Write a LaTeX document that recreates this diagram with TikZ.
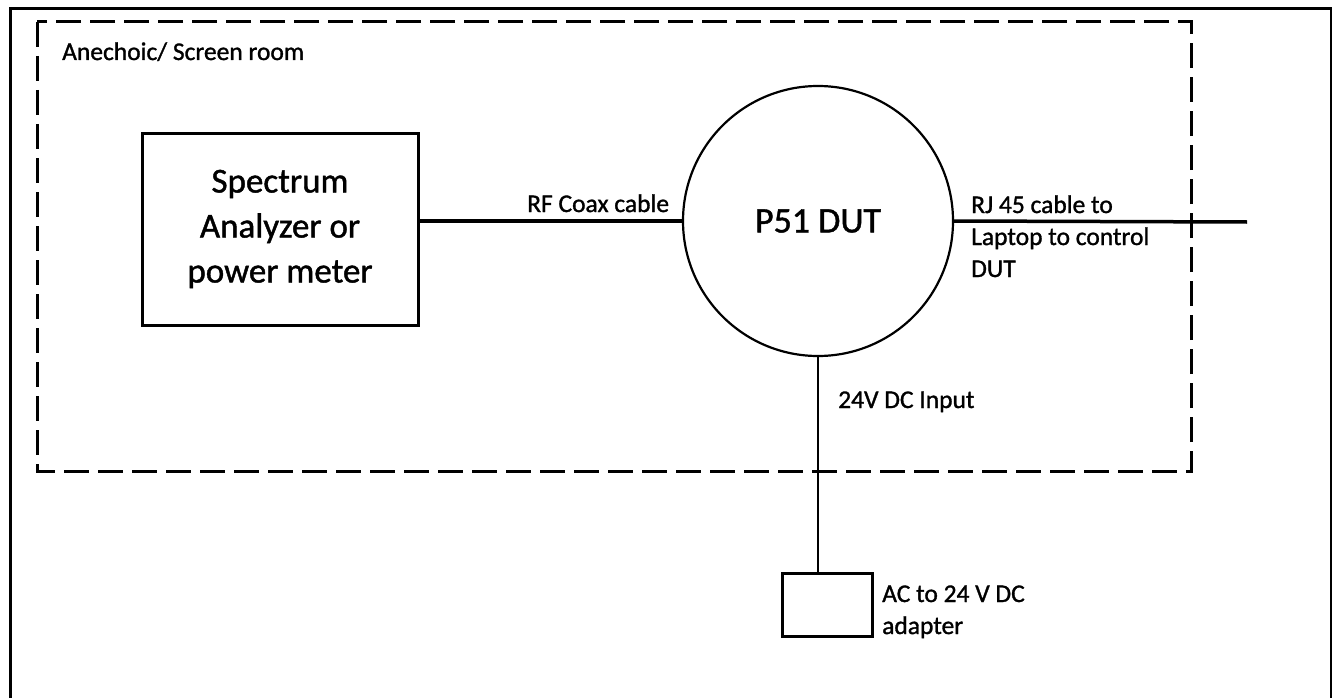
\documentclass[tikz,border=0pt]{standalone}
\usepackage{fontspec}
\setmainfont{Carlito}[FakeBold=1.2]
\begin{document}
\begin{tikzpicture}[x=1pt,y=-1pt,
  lbl/.style={inner sep=0pt,font=\fontsize{25.5}{32}\selectfont,align=left},
  boxstyle/.style={draw,line width=3pt,inner sep=0pt},
  cable/.style={line width=3.5pt},
  thin cable/.style={line width=2.4pt}]
\useasboundingbox (0,0) rectangle (1332,698);
% outer frame
\draw[line width=3pt] (10,698) -- (10,9) -- (1331,9) -- (1331,698);
% screen room
\draw[line width=3pt,dash pattern=on 25pt off 9pt] (37,22) rectangle (1191,471);
\node[lbl,anchor=base west] (room) at (62,60) {Anechoic/ Screen room};
% spectrum analyzer
\node[boxstyle,minimum width=276pt,minimum height=192pt,align=center,
      font=\fontsize{35}{45}\selectfont] (sa) at (280,229) {Spectrum\\Analyzer or\\power meter};
% DUT
\node[draw,circle,line width=2.2pt,minimum size=270pt,inner sep=0pt,
      font=\fontsize{36}{40}\selectfont] (dut) at (818,221) {P51 DUT};
% adapter
\node[boxstyle,minimum width=90pt,minimum height=63pt] (adp) at (827,604.5) {};
\coordinate (rj) at (1247,222);
% cables
\draw[cable] (sa.east |- dut.west) -- (dut.west);
\draw[cable] (dut.east) -- (rj);
\draw[thin cable] (dut.south) -- (dut.south |- adp.north);
% labels (base = baseline of the last line)
\node[lbl,anchor=base west] (rf) at (527,212) {RF Coax cable};
\node[lbl,anchor=base west] (rjl) at (971,277) {RJ 45 cable to\\Laptop to control\\DUT};
\node[lbl,anchor=base west] (dc) at (838,408) {24V DC Input};
\node[lbl,anchor=base west] (adl) at (882,634) {AC to 24 V DC\\adapter};
\end{tikzpicture}
\end{document}
